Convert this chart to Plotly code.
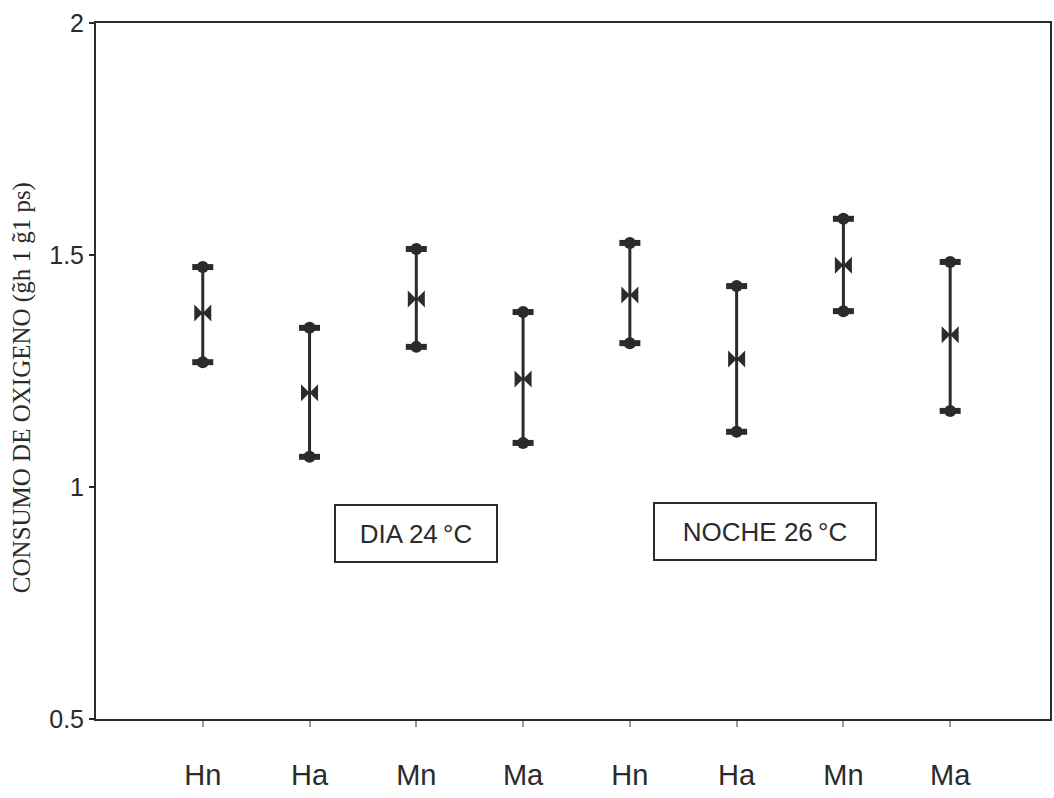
import plotly.graph_objects as go

categories = ["Hn", "Ha", "Mn", "Ma", "Hn", "Ha", "Mn", "Ma"]
means = [1.375, 1.203, 1.405, 1.233, 1.414, 1.276, 1.478, 1.328]
upper = [1.474, 1.343, 1.513, 1.377, 1.526, 1.433, 1.578, 1.485]
lower = [1.269, 1.065, 1.302, 1.095, 1.310, 1.119, 1.379, 1.164]
y_ticks = [0.5, 1, 1.5, 2]
y_tick_labels = ["0.5", "1", "1.5", "2"]
box_labels = ["DIA 24\u2009°C", "NOCHE 26\u2009°C"]

xs = list(range(1, len(categories) + 1))
ink = "#2b2b2b"

W, H = 1054, 798
ML, MR, MT, MB = 96, 2, 23, 79

fig = go.Figure()

lx, ly = [], []
for x, lo, hi in zip(xs, lower, upper):
    lx += [x, x, None]
    ly += [lo, hi, None]
fig.add_trace(go.Scatter(x=lx, y=ly, mode="lines",
                         line=dict(color=ink, width=3), hoverinfo="skip", showlegend=False))
fig.add_trace(go.Scatter(x=xs + xs, y=upper + lower, mode="markers",
                         marker=dict(symbol="circle", size=12, color=ink,
                                     line=dict(width=0)), showlegend=False))
fig.add_trace(go.Scatter(x=xs + xs, y=upper + lower, mode="markers",
                         marker=dict(symbol="line-ew", size=15, color=ink,
                                     line=dict(width=6, color=ink)), showlegend=False))
fig.add_trace(go.Scatter(x=xs, y=means, mode="markers",
                         marker=dict(symbol="bowtie", size=17, color=ink,
                                     line=dict(width=0)), showlegend=False))

fig.add_annotation(x=3.0, y=0.899, xref="x", yref="y", text=box_labels[0],
                   showarrow=False, font=dict(family="Liberation Sans", size=26, color=ink),
                   bordercolor=ink, borderwidth=2, borderpad=12, bgcolor="white",
                   width=136, height=31)
fig.add_annotation(x=6.27, y=0.905, xref="x", yref="y", text=box_labels[1],
                   showarrow=False, font=dict(family="Liberation Sans", size=26, color=ink),
                   bordercolor=ink, borderwidth=2, borderpad=12, bgcolor="white",
                   width=196, height=31)

plot_w = W - ML - MR
plot_h = H - MT - MB
title_px_x, title_px_y = 22, 388
fig.add_annotation(x=(title_px_x - ML) / plot_w, y=1 - (title_px_y - MT) / plot_h,
                   xref="paper", yref="paper",
                   text="CONSUMO DE OXIGENO (g\u0303h 1 g\u03031 ps)",
                   textangle=-90, showarrow=False, xanchor="center", yanchor="middle",
                   font=dict(family="Liberation Serif", size=25, color=ink))

fig.update_xaxes(range=[0.0, 8.935], tickmode="array", tickvals=xs, ticktext=categories,
                 showline=True, linecolor=ink, linewidth=2, mirror=True,
                 ticks="outside", ticklen=6, tickwidth=1.5, tickcolor="#999",
                 showgrid=False, zeroline=False, ticklabelstandoff=23,
                 tickfont=dict(family="Liberation Sans", size=29, color=ink))
fig.update_yaxes(range=[0.5, 2.0], tickmode="array", tickvals=y_ticks, ticktext=y_tick_labels,
                 showline=True, linecolor=ink, linewidth=2, mirror=True,
                 ticks="outside", ticklen=5, tickwidth=1.5, tickcolor=ink,
                 showgrid=False, zeroline=False, ticklabelstandoff=0,
                 tickfont=dict(family="Liberation Sans", size=25, color=ink))

fig.update_layout(width=W, height=H, margin=dict(l=ML, r=MR, t=MT, b=MB),
                  plot_bgcolor="white", paper_bgcolor="white")

fig.write_html("out.html", config={"displayModeBar": False},
               post_script="document.body.style.margin='0';document.body.style.overflow='hidden';")
